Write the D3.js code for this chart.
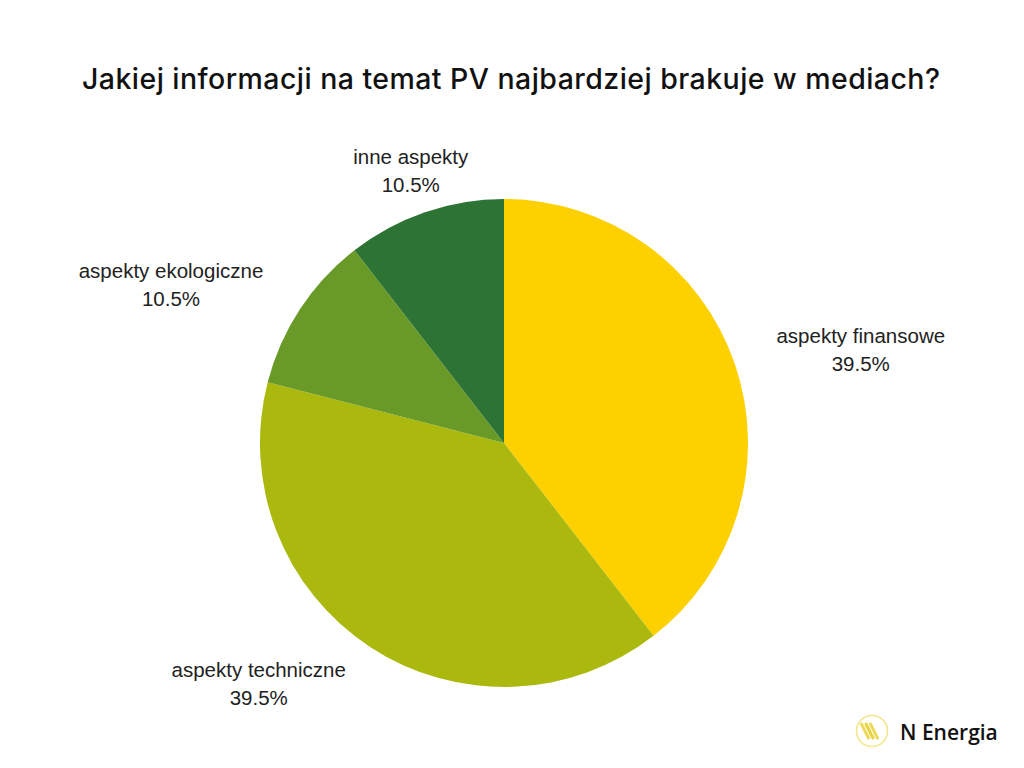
<!DOCTYPE html>
<html><head><meta charset="utf-8">
<script src="https://cdn.jsdelivr.net/npm/d3@7"></script>
<style>html,body{margin:0;padding:0;background:#fff;}svg{display:block;}</style>
</head><body>
<svg id="chart" width="1024" height="768"></svg>
<script>
const title = "Jakiej informacji na temat PV najbardziej brakuje w mediach?";
const categories = ["aspekty finansowe", "aspekty techniczne", "aspekty ekologiczne", "inne aspekty"];
const values = [39.5, 39.5, 10.5, 10.5];
const colors = ["#FDD000", "#ABB80D", "#699A27", "#2D7333"];
const brand = "N Energia";

const svg = d3.select("#chart");
const W = 1024, H = 768;
const cx = 504, cy = 443, R = 244, labelR = 288;

svg.append("rect").attr("width", W).attr("height", H).attr("fill", "#fff");

svg.append("text")
  .attr("x", 511).attr("y", 89)
  .attr("text-anchor", "middle")
  .attr("font-family", "Inter, 'Open Sans', sans-serif")
  .attr("font-weight", 500)
  .attr("font-size", 28.5)
  .attr("fill", "#111")
  .attr("textLength", 858)
  .attr("lengthAdjust", "spacing")
  .text(title);

const data = categories.map((c, i) => ({ name: c, value: values[i], color: colors[i] }));
const pie = d3.pie().value(d => d.value).sort(null);
const arc = d3.arc().innerRadius(0).outerRadius(R);
const arcs = pie(data);

const g = svg.append("g").attr("transform", `translate(${cx},${cy})`);
g.selectAll("path").data(arcs).join("path")
  .attr("d", arc)
  .attr("fill", d => d.data.color);

const fmt = v => v.toFixed(1) + "%";
arcs.forEach(a => {
  const mid = (a.startAngle + a.endAngle) / 2;
  const s = Math.sin(mid), c = Math.cos(mid);
  const x = labelR * s, y = -labelR * c;
  const t = g.append("text")
    .attr("x", x).attr("y", y)
    .attr("text-anchor", "middle")
    .attr("font-family", "'Liberation Sans', Arial, sans-serif")
    .attr("font-size", 20.5)
    .attr("fill", "#222");
  const t1 = t.append("tspan").attr("x", x).attr("dy", "-0.32em").text(a.data.name);
  const t2 = t.append("tspan").attr("x", x).attr("dy", "1.37em").text(fmt(a.data.value));
  const w = Math.max(t1.node().getComputedTextLength(), t2.node().getComputedTextLength());
  let bx = x;
  if (Math.abs(s) > 0.5) bx = x + Math.sign(s) * w / 2;
  t1.attr("x", bx); t2.attr("x", bx);
});

// logo
const lg = svg.append("g").attr("transform", "translate(872,731)");
lg.append("circle").attr("r", 15.5).attr("fill", "#fff").attr("stroke", "#F0E68C").attr("stroke-width", 1.6);
[-5, 0, 5].forEach((o, i) => {
  lg.append("line")
    .attr("x1", -6 + o * 0.9).attr("y1", -7)
    .attr("x2", 1 + o * 0.9).attr("y2", 7)
    .attr("stroke", "#E9D33C").attr("stroke-width", 3)
    .attr("stroke-linecap", "round")
    .attr("opacity", i === 1 ? 1 : 0.85);
});
svg.append("text")
  .attr("x", 900).attr("y", 740)
  .attr("font-family", "'Open Sans', sans-serif")
  .attr("font-weight", 600)
  .attr("font-size", 21)
  .attr("fill", "#111")
  .text(brand);
</script>
</body></html>
